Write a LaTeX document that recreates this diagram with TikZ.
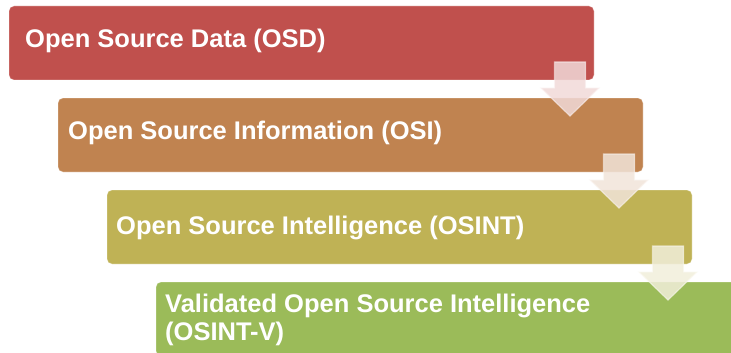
\documentclass[tikz,border=0pt]{standalone}
\usepackage{fontspec}
\setmainfont{Liberation Sans}
\begin{document}
\begin{tikzpicture}[x=1pt,y=-1pt,
  stagebox/.style={draw=white,draw opacity=0.35,line width=0.8pt,rounded corners=5pt,
    minimum width=585pt,minimum height=74pt,inner sep=0pt,anchor=north west,outer sep=0pt},
  stagetext/.style={anchor=base west,inner sep=0pt,text=white,align=left,
    font=\fontsize{25.5}{28}\selectfont\bfseries},
  flowarrow/.style={line width=1.2pt,fill opacity=0.85,draw opacity=0.6,line join=miter}]
\definecolor{cRed}{RGB}{192,80,77}
\definecolor{cOrange}{RGB}{192,131,80}
\definecolor{cOlive}{RGB}{191,178,85}
\definecolor{cGreen}{RGB}{155,187,89}
\useasboundingbox (0,0) rectangle (731,353);
\clip (0,0) rectangle (731,353);

% stage boxes, stepping down and to the right
\node[stagebox,fill=cRed]    (osd)   at (9,6)    {};
\node[stagebox,fill=cOrange] (osi)   at (58,98)  {};
\node[stagebox,fill=cOlive]  (osint) at (107,190) {};
\node[stagebox,fill=cGreen]  (osintv) at (156,282) {};

% labels (the two-line label is placed by the baseline of its last line)
\node[stagetext] (tosd)   at (25,48)   {Open Source Data (OSD)};
\node[stagetext] (tosi)   at (68,139)  {Open Source Information (OSI)};
\node[stagetext] (tosint) at (116,234) {Open Source Intelligence (OSINT)};
\node[stagetext] (tosintv) at (165,340) {Validated Open Source Intelligence\\(OSINT-V)};

% down arrows between consecutive stages
\foreach \k/\c in {0/cRed,1/cOrange,2/cOlive}{
  \pgfmathsetmacro{\cx}{570+49*\k}
  \pgfmathsetmacro{\ty}{62+92*\k}
  \draw[flowarrow,fill=\c!22!white,draw=\c!8!white]
    (\cx-15.5,\ty) -- (\cx+15.5,\ty) -- (\cx+15.5,\ty+26) -- (\cx+29,\ty+26)
    -- (\cx,\ty+54) -- (\cx-29,\ty+26) -- (\cx-15.5,\ty+26) -- cycle;
}
\end{tikzpicture}
\end{document}
